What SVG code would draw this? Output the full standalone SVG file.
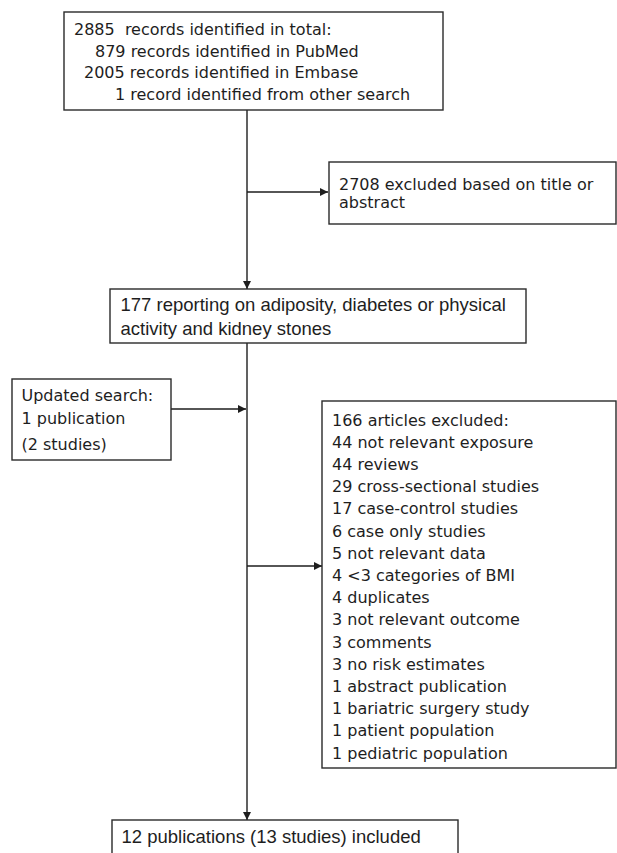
<svg xmlns="http://www.w3.org/2000/svg" width="617" height="853" viewBox="0 0 617 853">
<style>
.box{fill:#fff;stroke:#2a2a2a;stroke-width:1.4}
.v{font-family:"DejaVu Sans",Verdana,sans-serif;font-size:16px;fill:#1e1e1e;white-space:pre}
.a{font-family:"Liberation Sans",Arial,sans-serif;font-size:18.5px;fill:#1e1e1e}
.ln{fill:none;stroke:#1e1e1e;stroke-width:1.4}
</style>
<defs>
<marker id="arr" viewBox="0 0 10 10" refX="10" refY="5" markerWidth="8" markerHeight="8" markerUnits="userSpaceOnUse" orient="auto">
<path d="M0,0 L10,5 L0,10 Z" fill="#1e1e1e"/>
</marker>
</defs>
<rect width="617" height="853" fill="#fff"/>
<g id="connectors">
<line class="ln" x1="247" y1="110" x2="247" y2="289" marker-end="url(#arr)"/>
<line class="ln" x1="247" y1="192" x2="328" y2="192" marker-end="url(#arr)"/>
<line class="ln" x1="247" y1="343" x2="247" y2="820" marker-end="url(#arr)"/>
<line class="ln" x1="171" y1="409" x2="246" y2="409" marker-end="url(#arr)"/>
<line class="ln" x1="247" y1="566" x2="322" y2="566" marker-end="url(#arr)"/>
</g>
<g id="records">
<rect class="box" x="64" y="12" width="379" height="98"/>
<text class="v" x="74" y="35">2885  records identified in total:</text>
<text class="v" x="95" y="56.5">879 records identified in PubMed</text>
<text class="v" x="84" y="78">2005 records identified in Embase</text>
<text class="v" x="115" y="99.5">1 record identified from other search</text>
</g>
<g id="excluded-title">
<rect class="box" x="329" y="162" width="287" height="62"/>
<text class="v" x="339" y="189.5">2708 excluded based on title or</text>
<text class="v" x="339" y="207.5">abstract</text>
</g>
<g id="reporting">
<rect class="box" x="110" y="289" width="416" height="54"/>
<text class="a" x="120.5" y="311">177 reporting on adiposity, diabetes or physical</text>
<text class="a" x="120.5" y="335">activity and kidney stones</text>
</g>
<g id="updated">
<rect class="box" x="12" y="379" width="159" height="81"/>
<text class="v" x="21.5" y="401">Updated search:</text>
<text class="v" x="21.5" y="424">1 publication</text>
<text class="v" x="21.5" y="450">(2 studies)</text>
</g>
<g id="excluded-articles">
<rect class="box" x="322" y="401" width="294" height="367"/>
<text class="v" x="332" y="425.5">166 articles excluded:</text>
<text class="v" x="332" y="447.7">44 not relevant exposure</text>
<text class="v" x="332" y="469.9">44 reviews</text>
<text class="v" x="332" y="492.1">29 cross-sectional studies</text>
<text class="v" x="332" y="514.3">17 case-control studies</text>
<text class="v" x="332" y="536.5">6 case only studies</text>
<text class="v" x="332" y="558.7">5 not relevant data</text>
<text class="v" x="332" y="580.9">4 &lt;3 categories of BMI</text>
<text class="v" x="332" y="603.1">4 duplicates</text>
<text class="v" x="332" y="625.3">3 not relevant outcome</text>
<text class="v" x="332" y="647.5">3 comments</text>
<text class="v" x="332" y="669.7">3 no risk estimates</text>
<text class="v" x="332" y="691.9">1 abstract publication</text>
<text class="v" x="332" y="714.1">1 bariatric surgery study</text>
<text class="v" x="332" y="736.3">1 patient population</text>
<text class="v" x="332" y="758.5">1 pediatric population</text>
</g>
<g id="included">
<rect class="box" x="112" y="820" width="346" height="50"/>
<text class="a" x="121.5" y="843">12 publications (13 studies) included</text>
</g>
</svg>
